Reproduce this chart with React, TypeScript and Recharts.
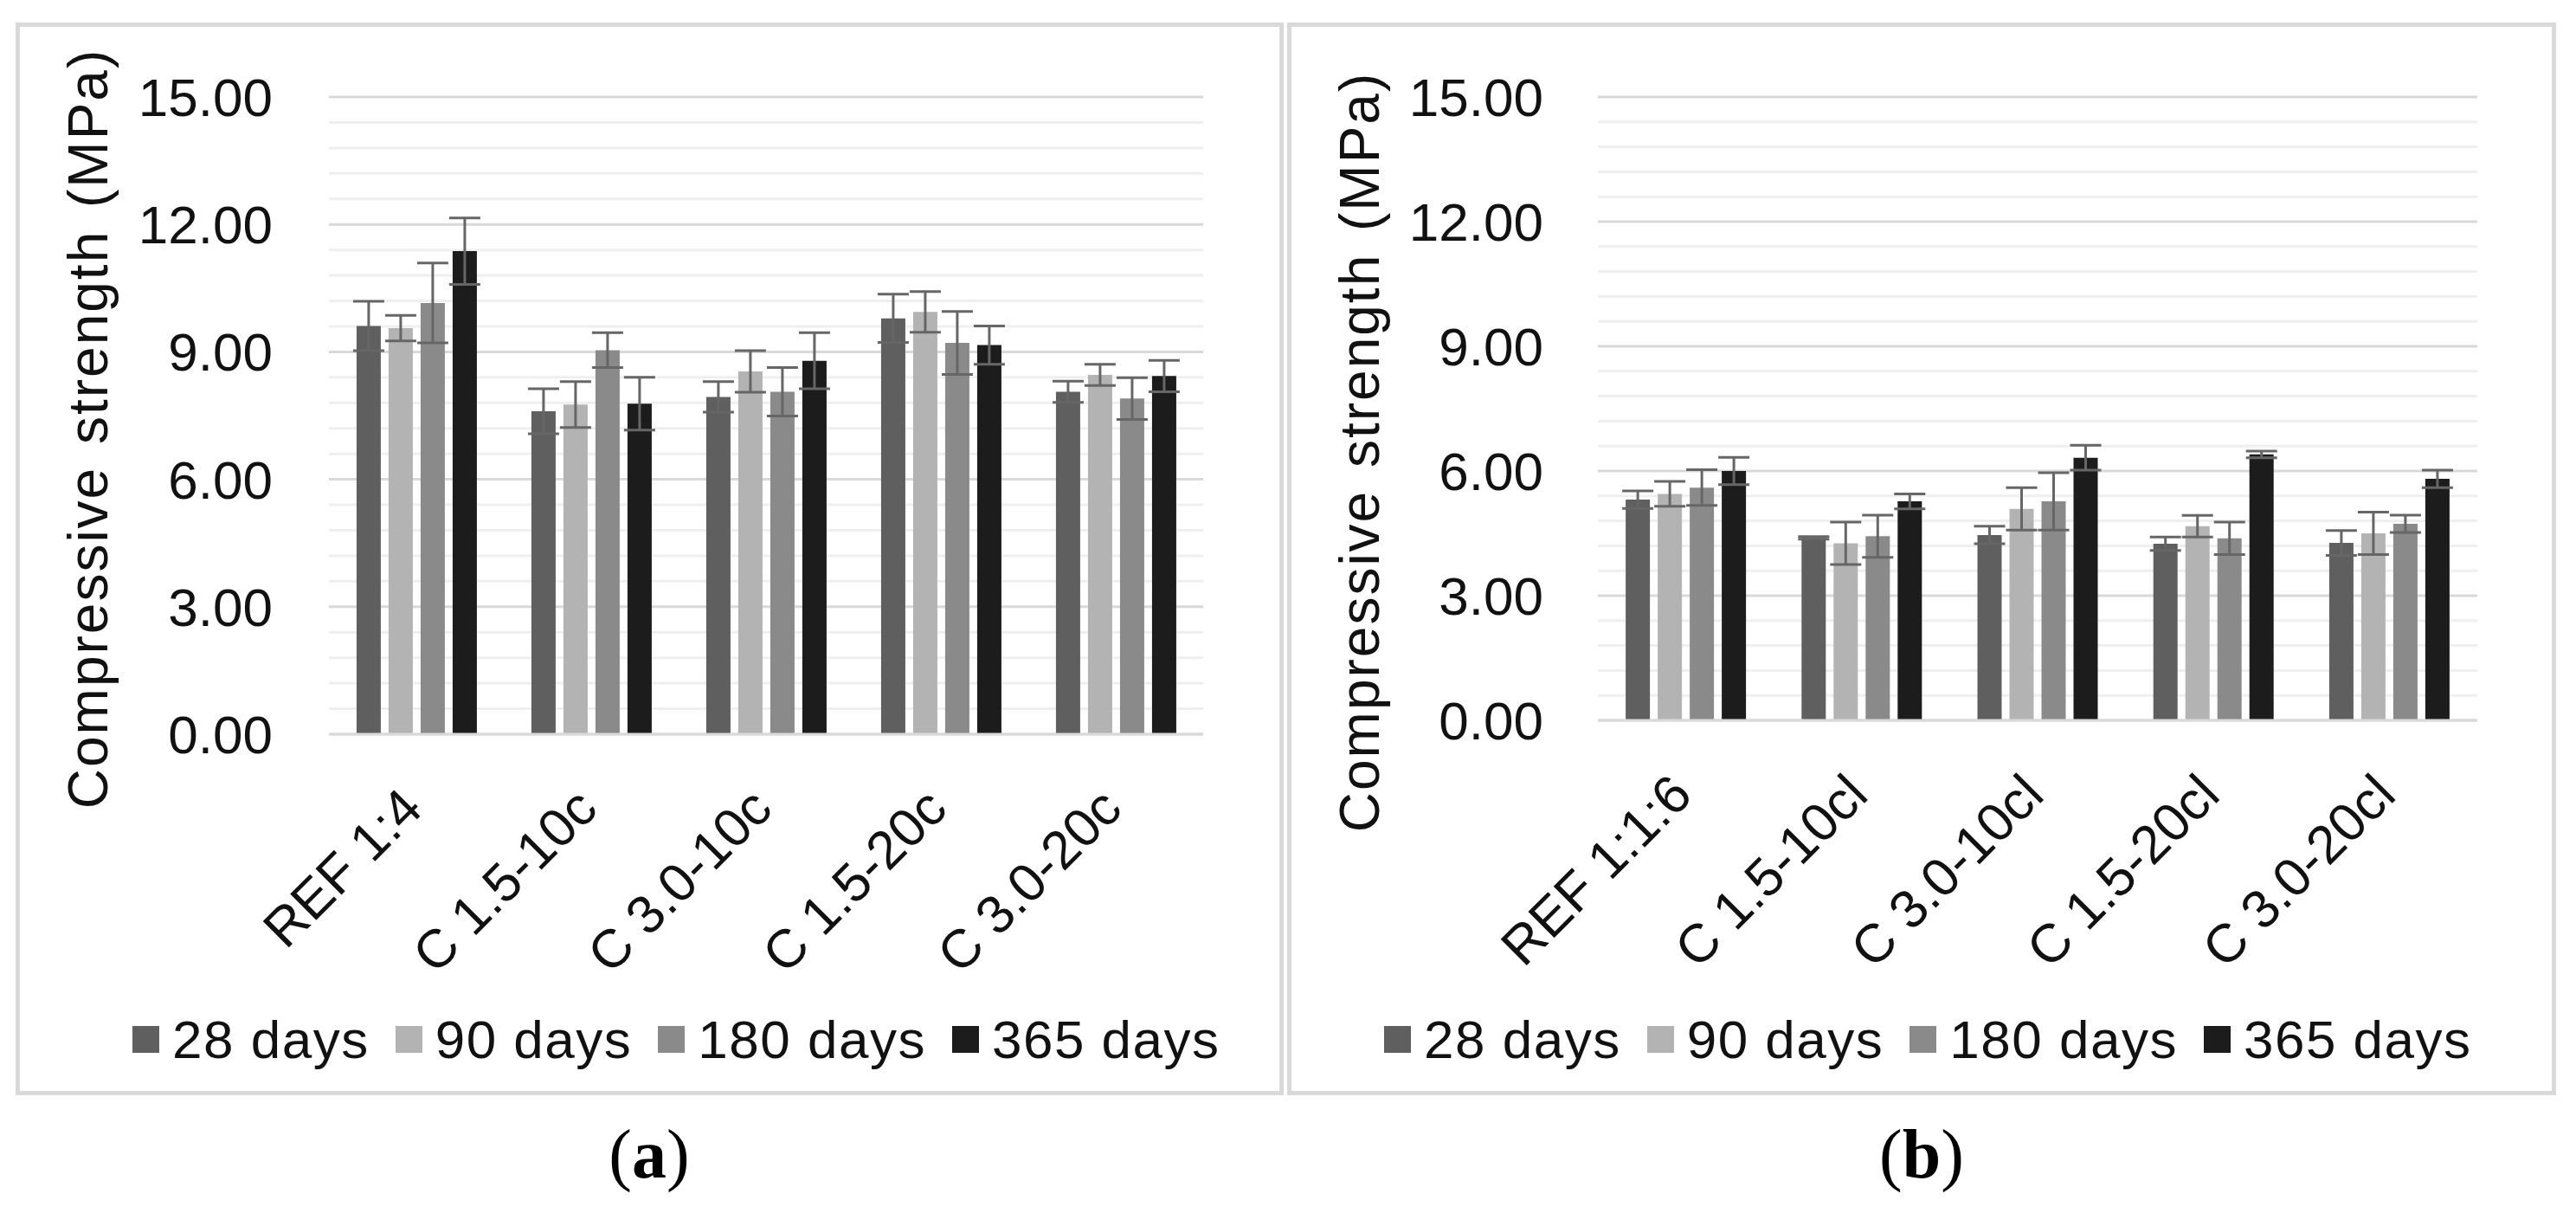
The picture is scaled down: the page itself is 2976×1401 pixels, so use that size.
import React from "react";
import { BarChart, Bar, XAxis, YAxis, CartesianGrid, ErrorBar, Legend } from "recharts";

const FONT = "'Liberation Sans', Arial, sans-serif";

const seriesNames = ["28 days", "90 days", "180 days", "365 days"];
const seriesKeys = ["d28", "d90", "d180", "d365"];
const seriesColors = ["#5f5f5f", "#b3b3b3", "#8a8a8a", "#1c1c1c"];

const yTicks = [0, 3, 6, 9, 12, 15];
const minorGrid = [
  0.6, 1.2, 1.8, 2.4, 3.6, 4.2, 4.8, 5.4, 6.6, 7.2, 7.8, 8.4, 9.6, 10.2, 10.8,
  11.4, 12.6, 13.2, 13.8, 14.4,
];

// panel (a)
const categoriesA = ["REF 1:4", "C 1.5-10c", "C 3.0-10c", "C 1.5-20c", "C 3.0-20c"];
const days28A = [9.61, 7.6, 7.94, 9.79, 8.06];
const days90A = [9.56, 7.76, 8.54, 9.94, 8.46];
const days180A = [10.15, 9.04, 8.06, 9.21, 7.9];
const days365A = [11.37, 7.78, 8.79, 9.16, 8.43];
const err28A = [0.58, 0.53, 0.36, 0.57, 0.25];
const err90A = [0.3, 0.54, 0.49, 0.48, 0.25];
const err180A = [0.94, 0.41, 0.57, 0.74, 0.49];
const err365A = [0.78, 0.62, 0.66, 0.45, 0.37];

// panel (b)
const categoriesB = ["REF 1:1:6", "C 1.5-10cl", "C 3.0-10cl", "C 1.5-20cl", "C 3.0-20cl"];
const days28B = [5.31, 4.39, 4.46, 4.25, 4.27];
const days90B = [5.45, 4.26, 5.09, 4.67, 4.5];
const days180B = [5.6, 4.43, 5.27, 4.38, 4.73];
const days365B = [6.0, 5.27, 6.32, 6.4, 5.81];
const err28B = [0.21, 0.03, 0.21, 0.16, 0.3];
const err90B = [0.3, 0.51, 0.51, 0.26, 0.51];
const err180B = [0.43, 0.51, 0.69, 0.39, 0.21];
const err365B = [0.33, 0.18, 0.3, 0.08, 0.21];

function buildRows(cats: string[], vals: number[][], errs: number[][]) {
  return cats.map((name, i) => {
    const row: any = { name };
    seriesKeys.forEach((k, s) => {
      row[k] = vals[s][i];
      row[k + "e"] = errs[s][i];
    });
    return row;
  });
}

const dataA = buildRows(
  categoriesA,
  [days28A, days90A, days180A, days365A],
  [err28A, err90A, err180A, err365A]
);
const dataB = buildRows(
  categoriesB,
  [days28B, days90B, days180B, days365B],
  [err28B, err90B, err180B, err365B]
);

function CategoryTick(props: any) {
  const { x, y, payload } = props;
  const tx = x + 10;
  const ty = y + 89;
  return (
    <text
      x={tx}
      y={ty}
      transform={`rotate(-45, ${tx}, ${ty})`}
      textAnchor="end"
      fontSize={62}
      fontFamily={FONT}
      fill="#111"
    >
      {payload.value}
    </text>
  );
}

function AxisTitle(props: any) {
  const { cx, cy } = props;
  return (
    <text
      x={cx}
      y={cy}
      transform={`rotate(-90, ${cx}, ${cy})`}
      textAnchor="middle"
      fontSize={64}
      fontFamily={FONT}
      fill="#111"
      letterSpacing={2}
      wordSpacing={6}
    >
      Compressive strength (MPa)
    </text>
  );
}

function LegendBox({ padLeft }: { padLeft: number }) {
  return (
    <div
      style={{
        height: 80,
        display: "flex",
        alignItems: "center",
        paddingLeft: padLeft,
        fontFamily: FONT,
        fontSize: 62,
        letterSpacing: 1.5,
        color: "#111",
        whiteSpace: "nowrap",
      }}
    >
      {seriesNames.map((n, i) => (
        <div key={n} style={{ display: "flex", alignItems: "center", marginRight: 30 }}>
          <div style={{ width: 31, height: 31, background: seriesColors[i], marginRight: 15 }} />
          <span>{n}</span>
        </div>
      ))}
    </div>
  );
}

function Panel(props: {
  data: any[];
  width: number;
  yAxisWidth: number;
  right: number;
  xAxisHeight: number;
  titleY: number;
  tickGap: number;
  legendPad: number;
}) {
  const { data, width, yAxisWidth, right, xAxisHeight, titleY, tickGap, legendPad } = props;
  return (
    <BarChart
      width={width}
      height={1229}
      data={data}
      margin={{ top: 81, right, left: 0, bottom: 20 }}
      barCategoryGap="15.8%"
      barGap={9}
    >
      <CartesianGrid
        vertical={false}
        horizontalValues={minorGrid}
        stroke="#efefef"
        strokeWidth={3}
      />
      <CartesianGrid
        vertical={false}
        horizontalValues={yTicks}
        stroke="#d9d9d9"
        strokeWidth={3}
      />
      <XAxis
        dataKey="name"
        height={xAxisHeight}
        interval={0}
        tickLine={false}
        tickSize={0}
        tickMargin={0}
        axisLine={{ stroke: "#d9d9d9", strokeWidth: 3 }}
        tick={<CategoryTick />}
      />
      <YAxis
        width={yAxisWidth}
        domain={[0, 15]}
        ticks={yTicks}
        interval={0}
        axisLine={false}
        tickLine={false}
        tickSize={0}
        tickMargin={tickGap}
        tickFormatter={(v: number) => v.toFixed(2)}
        tick={{ fontSize: 62, fill: "#111", fontFamily: FONT }}
        label={<AxisTitle cx={101} cy={titleY} />}
      />
      <Legend
        verticalAlign="bottom"
        wrapperStyle={{ left: 0, width }}
        content={() => <LegendBox padLeft={legendPad} />}
      />
      {seriesKeys.map((k, i) => (
        <Bar
          key={k}
          dataKey={k}
          name={seriesNames[i]}
          fill={seriesColors[i]}
          isAnimationActive={false}
        >
          <ErrorBar
            dataKey={k + "e"}
            direction="y"
            width={18}
            stroke="#666"
            strokeWidth={3}
            isAnimationActive={false}
          />
        </Bar>
      ))}
    </BarChart>
  );
}

const panelStyle = (left: number, width: number): React.CSSProperties => ({
  position: "absolute",
  left,
  top: 26,
  width,
  height: 1239,
  border: "5px solid #d9d9d9",
  boxSizing: "border-box",
  background: "#fff",
});

const captionStyle = (cx: number): React.CSSProperties => ({
  position: "absolute",
  left: cx - 100,
  width: 200,
  top: 1293,
  textAlign: "center",
  fontFamily: "'Liberation Serif', 'Times New Roman', serif",
  fontSize: 80,
  lineHeight: "80px",
  color: "#000",
});

export default function App() {
  return (
    <div
      style={{
        position: "absolute",
        left: 0,
        top: 0,
        width: 2976,
        height: 1401,
        background: "#fff",
        overflow: "hidden",
      }}
    >
      <div style={panelStyle(18, 1465)}>
        <Panel
          data={dataA}
          width={1455}
          yAxisWidth={357}
          right={88}
          xAxisHeight={312}
          titleY={464}
          tickGap={65}
          legendPad={130}
        />
      </div>
      <div style={panelStyle(1487, 1466)}>
        <Panel
          data={dataB}
          width={1456}
          yAxisWidth={354}
          right={86}
          xAxisHeight={328}
          titleY={491}
          tickGap={63}
          legendPad={107}
        />
      </div>
      <div style={captionStyle(750)}>
        (<b>a</b>)
      </div>
      <div style={captionStyle(2220)}>
        (<b>b</b>)
      </div>
    </div>
  );
}
